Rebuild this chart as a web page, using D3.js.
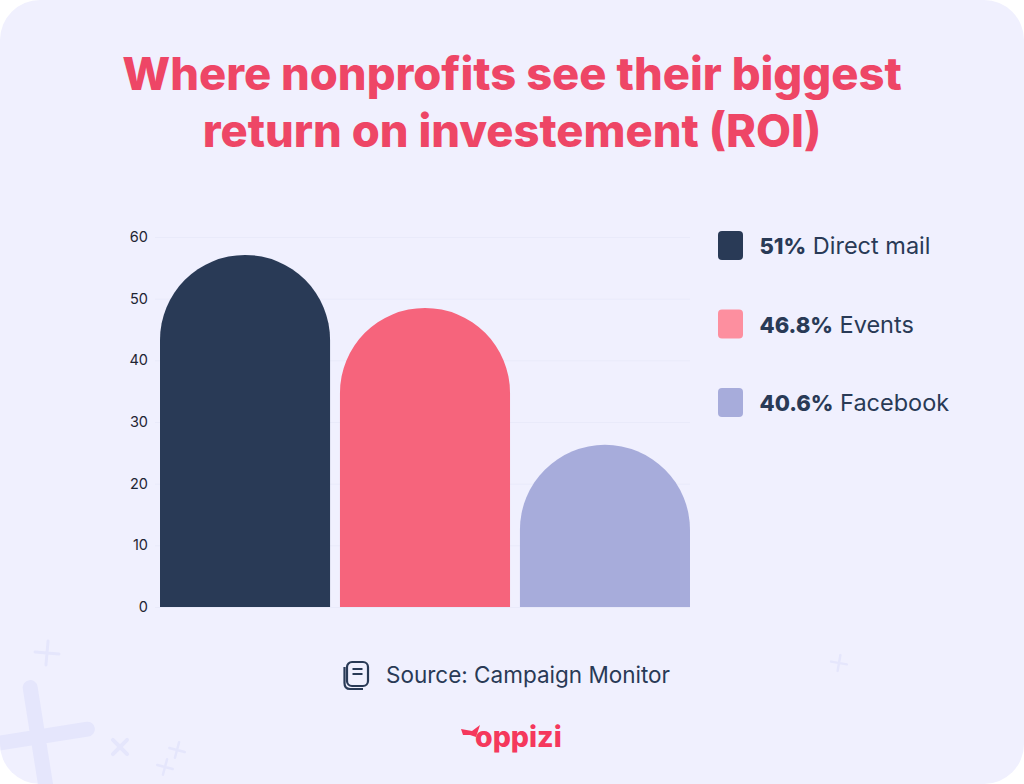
<!DOCTYPE html>
<html>
<head>
<meta charset="utf-8">
<script src="https://cdn.jsdelivr.net/npm/d3@7"></script>
<style>
  html, body { margin: 0; padding: 0; background: #fff; }
  svg { display: block; }
  text { font-family: Inter, sans-serif; }
</style>
</head>
<body>
<svg id="chart" width="1024" height="784"></svg>
<script>
var titleLines = ['Where nonprofits see their biggest', 'return on investement (ROI)'];
var categories = ['Direct mail', 'Events', 'Facebook'];
var barValues = [57.1, 48.5, 26.3];
var legendLabels = ['51%', '46.8%', '40.6%'];
var yTicks = [0, 10, 20, 30, 40, 50, 60];
var barColors = ['#293a56', '#f6647c', '#a7acdb'];
var legendColors = ['#293a56', '#fd8f9f', '#a7acdb'];
var sourceText = 'Source: Campaign Monitor';

var width = 1024, height = 784;
var margin = {top: 237, right: 334, bottom: 177, left: 155};
var ink = '#293a56';

var svg = d3.select('#chart');

svg.append('rect')
  .attr('width', width)
  .attr('height', height)
  .attr('rx', 40)
  .attr('fill', '#f0f0fe');

// faint crosses in the background
var clip = svg.append('clipPath').attr('id', 'card');
clip.append('rect').attr('width', width).attr('height', height).attr('rx', 40);
var deco = svg.append('g')
  .attr('clip-path', 'url(#card)')
  .attr('stroke', '#e5e6fc')
  .attr('stroke-linecap', 'round')
  .attr('fill', 'none');
function cross(cx, cy, size, angle, sw) {
  deco.append('path')
    .attr('d', 'M' + (-size) + ',0H' + size + 'M0,' + (-size) + 'V' + size)
    .attr('transform', 'translate(' + cx + ',' + cy + ') rotate(' + angle + ')')
    .attr('stroke-width', sw);
}
cross(47, 653, 12, 5, 3);
cross(38, 737, 50, -9, 15);
cross(120, 747, 10, 45, 4);
cross(177, 750, 8, 15, 2.5);
cross(165, 767, 8, 15, 2.5);
cross(839, 663, 8, 10, 2.5);

var x = d3.scaleBand()
  .domain(categories)
  .range([160, 690])
  .paddingInner(0.055)
  .paddingOuter(0);

var y = d3.scaleLinear()
  .domain([0, 60])
  .range([height - margin.bottom, margin.top]);

// gridlines and tick labels
var yAxis = d3.axisLeft(y)
  .tickValues(yTicks)
  .tickSize(-(690 - margin.left))
  .tickPadding(7);

var axisG = svg.append('g')
  .attr('transform', 'translate(' + margin.left + ',0)')
  .call(yAxis);
axisG.select('.domain').remove();
axisG.selectAll('.tick line').attr('stroke', '#e9eafa').attr('stroke-width', 1);
axisG.selectAll('.tick text')
  .attr('fill', '#1f2433')
  .style('font-size', '14.5px')
  .style('font-family', 'Inter, sans-serif');

// bars with a fully round top
svg.append('g').selectAll('path')
  .data(categories)
  .enter().append('path')
  .attr('fill', function(d, i) { return barColors[i]; })
  .attr('d', function(d, i) {
    var x0 = x(d), w = x.bandwidth(), r = w / 2;
    var top = y(barValues[i]), base = y(0);
    return 'M' + x0 + ',' + base +
      'V' + (top + r) +
      'A' + r + ',' + r + ' 0 0 1 ' + (x0 + w) + ',' + (top + r) +
      'V' + base + 'Z';
  });

// title
svg.append('g').selectAll('text')
  .data(titleLines)
  .enter().append('text')
  .attr('x', 512)
  .attr('y', function(d, i) { return 90 + i * 57; })
  .attr('text-anchor', 'middle')
  .attr('fill', '#ee4666')
  .style('font-size', '45.3px')
  .style('font-weight', 800)
  .text(function(d) { return d; });

// legend
var legendY = d3.scalePoint().domain(categories).range([245.5, 402.5]);
var legend = svg.append('g').selectAll('g')
  .data(categories)
  .enter().append('g')
  .attr('transform', function(d) { return 'translate(718,' + legendY(d) + ')'; });

legend.append('rect')
  .attr('y', -14.5)
  .attr('width', 25)
  .attr('height', 29)
  .attr('rx', 4)
  .attr('fill', function(d, i) { return legendColors[i]; });

var legendText = legend.append('text')
  .attr('x', 41.5)
  .attr('y', 8.5)
  .attr('fill', ink)
  .style('font-size', '23.5px');
legendText.append('tspan')
  .style('font-weight', 800)
  .style('font-size', '22px')
  .text(function(d, i) { return legendLabels[i]; });
legendText.append('tspan')
  .text(function(d) { return ' ' + d; });

// source line
var icon = svg.append('g')
  .attr('transform', 'translate(343,661)')
  .attr('fill', 'none')
  .attr('stroke', ink)
  .attr('stroke-width', 2.2);
icon.append('rect').attr('x', 4).attr('y', 1).attr('width', 21).attr('height', 24).attr('rx', 5);
icon.append('path').attr('d', 'M1.5,6V22Q1.5,28 7,28H20');
icon.append('path').attr('d', 'M9.5,8H19.5M9.5,13H19.5');

svg.append('text')
  .attr('x', 386)
  .attr('y', 683)
  .attr('fill', ink)
  .style('font-size', '22.5px')
  .text(sourceText);

// logo
svg.append('path')
  .attr('d', 'M461,729L472,731L480,725L476,737L470,735L463,735Z')
  .attr('fill', '#f5385c');
svg.append('text')
  .attr('x', 475)
  .attr('y', 747)
  .attr('fill', '#f5385c')
  .style('font-size', '28.5px')
  .style('font-weight', 800)
  .text('oppizi');
</script>
</body>
</html>
